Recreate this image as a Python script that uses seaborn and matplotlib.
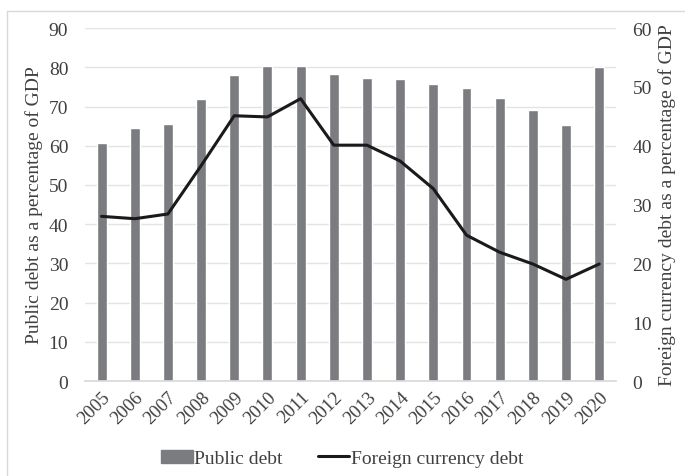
import matplotlib
matplotlib.use('Agg')
from matplotlib import pyplot as plt
from matplotlib.lines import Line2D
import pandas as pd
import seaborn as sns

years = [str(y) for y in range(2005, 2021)]
public_debt = [60.7, 64.6, 65.6, 71.9, 78.1, 80.4, 80.4, 78.4,
               77.4, 76.9, 75.8, 74.8, 72.3, 69.2, 65.3, 80.1]
foreign_debt = [28.0, 27.6, 28.4, 36.6, 45.1, 44.9, 48.0, 40.1,
                40.1, 37.4, 32.7, 24.8, 21.9, 19.9, 17.3, 19.9]

df = pd.DataFrame({'year': years, 'public': public_debt, 'foreign': foreign_debt})

sns.set_theme(style='white')
plt.rcParams['font.family'] = ['Liberation Serif', 'DejaVu Serif']
text_col = '#404040'
bar_col = '#7b7c80'
grid_col = '#e3e3e3'

fig = plt.figure(figsize=(6.85, 4.77), dpi=100)
ax = fig.add_axes([0.124, 0.199, 0.775, 0.740])

sns.barplot(data=df, x='year', y='public', color=bar_col, width=0.3,
            saturation=1, ax=ax, zorder=2)
ax.set_ylim(0, 90)
ax.set_yticks(range(0, 91, 10))
ax.yaxis.grid(True, color=grid_col, linewidth=1, zorder=0)
ax.set_axisbelow(True)
ax.set_xlim(-0.5, len(years) - 0.5)
for s in ['top', 'right', 'left']:
    ax.spines[s].set_visible(False)
ax.spines['bottom'].set_color('#d9d9d9')
ax.set_xlabel('')
ax.set_ylabel('Public debt as a percentage of GDP', fontsize=14, color=text_col,
              labelpad=4)
ax.tick_params(axis='y', labelsize=14, colors=text_col, length=0, pad=12)
ax.tick_params(axis='x', labelsize=13.5, colors=text_col, length=0, pad=5)
plt.setp(ax.get_xticklabels(), rotation=45, ha='right', rotation_mode='anchor')

ax2 = ax.twinx()
sns.lineplot(data=df, x='year', y='foreign', color='#1a1a1a', linewidth=2.2,
             ax=ax2, sort=False)
ax2.set_ylim(0, 60)
ax2.set_yticks(range(0, 61, 10))
ax2.set_xlim(-0.5, len(years) - 0.5)
for s in ['top', 'right', 'left', 'bottom']:
    ax2.spines[s].set_visible(False)
ax2.set_xlabel('')
ax2.set_ylabel('Foreign currency debt as a percentage of GDP', fontsize=14,
               color=text_col, labelpad=4)
ax2.tick_params(axis='y', labelsize=14, colors=text_col, length=0, pad=12)

handles = [plt.Rectangle((0, 0), 1, 1, color=bar_col),
           Line2D([0], [0], color='#1a1a1a', linewidth=2.2)]
fig.legend(handles, ['Public debt', 'Foreign currency debt'], loc='center',
           bbox_to_anchor=(0.5, 0.037), ncol=2, frameon=False, fontsize=14,
           handlelength=1.6, handletextpad=0.1, columnspacing=1.8,
           labelcolor=text_col)

# light frame on the left and top edges
fig.add_artist(Line2D([7 / 685, 7 / 685], [0, 1 - 12 / 477],
                      transform=fig.transFigure, color='#d9d9d9', linewidth=1))
fig.add_artist(Line2D([7 / 685, 1], [1 - 12 / 477, 1 - 12 / 477],
                      transform=fig.transFigure, color='#d9d9d9', linewidth=1))

fig.savefig('out.png', dpi=100)
